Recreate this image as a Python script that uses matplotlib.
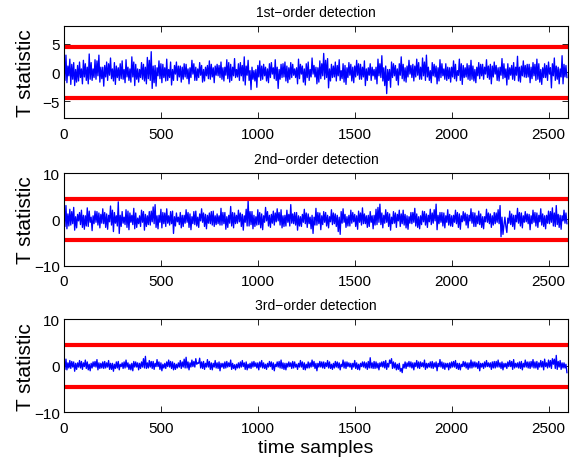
"""Three stacked T-statistic traces with detection thresholds"""
import numpy as np
import matplotlib
matplotlib.use("Agg")
import matplotlib.pyplot as plt

plt.rcParams['font.family'] = ['Liberation Sans', 'DejaVu Sans']

# one value every 5 time samples
step = 5
n_samples = 2600
threshold = 4.5

first_order = [
    0.8, -1.4, 3.0, -1.8, 1.1, -0.6, 2.3, -2.1, 1.4, -1.2, 1.7, -2.3, 0.5, -1.7, 1.2, -1.5, 1.8, -0.9, 0.6, -2.0,
    2.1, -0.8, 1.5, -1.4, 0.9, -2.0, 3.2, -1.2, 1.7, -1.4, 0.6, -0.9, 2.2, -1.2, 2.0, -0.6, 3.0, -1.7, 0.9, -1.1,
    0.9, -2.4, 1.2, -0.8, 1.8, -1.4, 1.5, -0.5, 2.5, -1.1, 0.6, -1.5, 1.7, -2.1, 1.1, -0.9, 0.8, -1.4, 1.5, -1.1,
    2.0, -1.2, 0.5, -1.8, 2.2, -0.8, 0.9, -1.4, 0.6, -1.7, 2.7, -0.8, 1.8, -2.3, 1.4, -1.2, 0.6, -1.7, 0.5, -0.9,
    1.7, -1.2, 1.4, -1.5, 0.9, -2.0, 2.6, -1.1, 2.1, -1.4, 3.6, -2.8, 1.1, -1.8, 1.2, -2.4, 0.8, -0.6, 2.0, -1.1,
    1.5, -1.8, 1.4, -0.9, 0.8, -1.5, 2.3, -1.4, 0.5, -0.9, 1.8, -2.2, 0.5, -1.4, 1.2, -0.3, 1.8, -1.4, 1.1, -0.8,
    1.1, -1.7, 0.9, -1.2, 1.5, -0.8, 1.4, -1.1, 0.6, -2.0, 0.8, -0.9, 2.1, -0.3, 1.5, -1.4, 0.9, -1.4, 0.6, -0.9,
    1.7, -0.5, 1.2, -1.7, 0.5, -1.5, 0.9, -0.6, 1.2, -1.1, 2.0, -1.2, 1.4, -0.8, 0.8, -1.8, 1.1, -0.5, 1.4, -0.6,
    1.2, -0.9, 1.8, -1.2, 0.8, -1.5, 0.9, -0.5, 2.2, -1.1, 1.7, -1.7, 1.4, -1.4, 0.9, -0.6, 2.4, -0.9, 0.5, -0.8,
    1.5, -1.4, 1.7, -0.6, 1.2, -1.5, 2.7, -2.2, 1.1, -0.5, 2.1, -1.4, 0.3, -3.0, 0.9, -1.2, 0.3, -1.5, 0.5, -2.6,
    1.2, -0.8, 2.0, -1.4, 1.1, -1.2, 1.4, -0.6, 0.9, -1.5, 0.6, -1.8, 1.5, -0.9, 1.7, -0.3, 0.8, -1.1, 2.2, -1.4,
    0.9, -2.8, 0.5, -1.2, 1.4, -0.9, 1.5, -0.8, 1.8, -1.5, 1.1, -1.8, 0.8, -1.2, 1.7, -0.9, 1.4, -0.5, 0.6, -0.9,
    0.8, -2.0, 2.3, -1.1, 1.4, -0.3, 1.1, -1.7, 0.6, -2.2, 1.5, -0.9, 1.8, -1.4, 0.5, -0.8, 2.5, -0.3, 1.2, -0.8,
    0.9, -2.0, 0.8, -1.7, 2.0, -1.1, 1.5, -0.6, 3.3, -1.2, 2.1, -0.9, 2.4, -2.7, 0.6, -1.5, 1.4, -0.9, 1.1, -0.8,
    1.8, -1.5, 1.2, -0.6, 2.2, -1.4, 0.3, -1.1, 1.5, -1.7, 1.2, -2.1, 0.8, -0.9, 1.7, -0.5, 1.4, -1.5, 0.9, -1.8,
    1.1, -0.8, 2.1, -0.5, 1.5, -1.2, 1.4, -1.2, 0.9, -0.8, 2.0, -2.3, 0.6, -1.4, 0.8, -0.5, 1.5, -1.4, 0.9, -0.6,
    0.5, -1.2, 0.9, -2.0, 2.3, -0.6, 1.5, -0.9, 2.9, -1.5, 0.8, -2.3, 1.1, -3.7, 0.5, -1.4, 0.5, -2.6, 1.8, -0.9,
    1.5, -0.6, 1.2, -1.4, 0.6, -2.2, 1.5, -0.5, 2.7, -1.1, 1.4, -1.5, 0.8, -1.7, 1.1, -0.8, 2.1, -0.3, 1.2, -0.9,
    1.4, -1.5, 1.1, -0.8, 2.3, -0.5, 1.7, -1.2, 0.9, -1.2, 2.5, -0.6, 1.8, -1.4, 3.0, -0.8, 0.9, -1.4, 0.3, -1.8,
    1.7, -0.6, 1.4, -0.8, 1.1, -2.0, 0.8, -1.5, 2.2, -0.9, 1.5, -0.6, 0.6, -1.2, 1.5, -1.4, 0.9, -1.1, 0.8, -1.7,
    0.9, -0.8, 2.0, -1.1, 1.4, -1.5, 0.3, -0.5, 2.3, -1.4, 1.5, -2.1, 1.2, -0.9, 0.8, -0.8, 1.5, -1.2, 1.2, -1.4,
    2.1, -1.2, 1.1, -1.5, 0.5, -1.8, 0.9, -0.6, 1.7, -1.1, 1.4, -0.6, 1.4, -1.2, 0.9, -0.3, 2.2, -0.9, 1.1, -1.2,
    1.4, -2.0, 1.1, -0.8, 1.8, -0.3, 1.2, -1.4, 0.8, -1.5, 0.9, -0.5, 2.4, -1.1, 1.5, -0.9, 0.6, -2.2, 1.5, -1.2,
    0.8, -0.5, 1.2, -1.2, 1.7, -1.4, 0.9, -0.5, 2.8, -1.5, 0.9, -1.7, 1.1, -0.6, 2.0, -0.8, 1.2, -0.9, 1.4, -0.8,
    1.4, -1.8, 0.9, -1.1, 1.7, -0.6, 1.4, -1.4, 2.3, -1.2, 1.5, -1.7, 0.5, -2.1, 0.8, -0.9, 1.5, -0.9, 1.2, -1.4,
    1.8, -0.3, 0.8, -2.7, 1.5, -0.6, 2.5, -1.4, 1.1, -1.2, 0.9, -2.0, 0.6, -0.8, 2.9, -2.0, 1.4, -0.8, 1.2, -0.9,
]

second_order = [
    0.6, -1.5, 3.0, -2.0, 1.2, -1.4, 2.2, -1.2, 1.7, -0.9, 2.6, -2.3, 0.6, -1.8, 1.1, -0.3, 1.5, -1.1, 2.0, -1.7,
    0.9, -2.1, 0.8, -1.4, 2.5, -1.5, 1.8, -0.6, 0.5, -2.4, 0.8, -0.9, 1.8, -0.6, 1.7, -1.2, 1.4, -1.8, 1.1, -0.8,
    2.3, -0.9, 1.5, -1.7, 1.2, -2.1, 0.9, -0.5, 2.9, -1.2, 2.0, -2.6, 1.5, -0.8, 0.8, -1.4, 3.8, -3.0, 0.9, -1.5,
    1.7, -0.8, 0.5, -1.1, 2.1, -1.7, 1.8, -2.2, 1.4, -0.6, 0.9, -1.1, 2.4, -2.0, 1.4, -1.7, 0.3, -0.9, 0.8, -1.5,
    2.0, -0.6, 1.7, -2.3, 1.1, -1.5, 0.8, -1.1, 1.7, -1.2, 1.8, -0.5, 2.7, -0.9, 3.2, -1.7, 0.8, -2.0, 0.9, -0.6,
    2.2, -1.8, 1.5, -0.9, 1.4, -1.5, 2.3, -0.8, 0.8, -1.2, 1.7, -0.9, 1.8, -3.0, 0.6, -1.4, 1.4, -0.5, 0.5, -1.1,
    1.5, -1.8, 0.9, -1.5, 0.9, -0.8, 2.1, -0.6, 1.5, -1.7, 1.2, -2.2, 0.6, -0.9, 1.7, -1.1, 1.8, -1.4, 0.5, -1.7,
    1.2, -0.3, 2.3, -0.6, 1.4, -1.5, 1.1, -2.0, 0.9, -0.8, 1.4, -0.9, 1.7, -1.2, 1.8, -1.5, 0.8, -1.1, 1.2, -0.9,
    0.8, -1.2, 2.4, -1.2, 1.5, -0.9, 1.5, -2.1, 0.6, -1.7, 0.9, -0.8, 2.8, -1.4, 1.5, -1.8, 1.4, -0.9, 0.9, -0.8,
    2.0, -0.5, 1.4, -1.5, 1.1, -2.3, 0.8, -0.6, 2.2, -1.4, 4.1, -1.4, 1.7, -1.1, 1.7, -2.0, 0.9, -1.5, 0.6, -1.2,
    2.1, -1.1, 1.5, -1.8, 1.2, -2.2, 0.8, -0.6, 2.6, -0.3, 1.7, -1.4, 0.9, -1.7, 1.1, -0.8, 1.8, -1.2, 1.4, -0.5,
    2.3, -0.3, 1.5, -1.2, 2.1, -1.8, 0.8, -1.5, 0.9, -1.4, 2.0, -0.6, 1.1, -1.4, 3.2, -0.8, 1.2, -0.9, 1.5, -1.2,
    1.5, -2.3, 0.8, -1.4, 0.6, -1.5, 1.1, -0.6, 2.2, -0.9, 1.4, -1.7, 1.2, -0.9, 0.5, -2.0, 0.9, -3.0, 0.5, -1.2,
    2.4, -1.2, 1.5, -0.9, 1.4, -2.2, 0.8, -1.1, 1.7, -0.6, 1.5, -1.4, 0.9, -1.8, 0.6, -0.5, 2.1, -1.1, 1.4, -0.9,
    1.2, -1.5, 0.9, -2.6, 0.5, -3.2, 1.7, -0.8, 2.3, -0.6, 1.1, -1.7, 0.6, -1.4, 0.9, -1.4, 2.0, -0.8, 1.5, -0.5,
    1.1, -1.5, 0.8, -2.1, 1.8, -0.6, 1.4, -1.2, 2.5, -0.9, 1.2, -0.9, 0.8, -1.7, 0.9, -1.5, 1.7, -0.6, 0.8, -2.0,
    0.9, -1.2, 2.2, -1.1, 2.6, -0.6, 3.3, -1.1, 1.4, -1.8, 0.9, -0.8, 2.1, -0.6, 1.5, -1.5, 1.2, -2.3, 0.5, -0.9,
    1.7, -0.8, 1.4, -1.7, 1.1, -0.3, 2.0, -1.5, 1.2, -0.9, 2.0, -1.2, 1.1, -1.8, 0.8, -2.1, 0.6, -0.8, 1.5, -0.9,
    1.5, -0.6, 2.4, -1.4, 1.2, -1.7, 0.6, -2.0, 0.8, -1.1, 1.8, -0.5, 1.7, -1.2, 1.2, -1.7, 0.9, -0.5, 2.2, -1.1,
    1.4, -0.8, 2.1, -0.3, 3.3, -2.2, 0.9, -0.9, 1.5, -0.6, 1.5, -1.4, 1.4, -1.8, 0.8, -0.6, 2.1, -1.2, 1.1, -1.4,
    0.8, -1.5, 0.9, -0.6, 2.0, -0.9, 1.5, -1.7, 1.2, -2.1, 0.8, -0.5, 1.7, -0.3, 1.4, -1.2, 1.1, -1.8, 0.9, -0.3,
    2.3, -0.8, 1.5, -1.5, 1.4, -1.5, 0.8, -0.9, 1.8, -1.1, 1.2, -1.7, 0.6, -2.0, 0.6, -0.5, 2.2, -0.6, 1.4, -0.9,
    1.2, -1.7, 0.8, -1.2, 1.5, -0.9, 1.4, -0.6, 2.1, -0.9, 3.0, -3.7, 0.5, -3.2, -1.2, 0.5, -1.5, -2.8, 0.3, -0.8,
    1.8, -1.1, 1.2, -1.5, 0.9, -2.1, 0.9, -0.5, 2.4, -0.8, 1.5, -1.4, 1.4, -1.8, 0.8, -0.6, 1.7, -0.5, 1.2, -0.9,
    1.1, -2.2, 0.8, -0.9, 2.0, -0.6, 1.5, -1.4, 1.4, -1.7, 0.9, -0.5, 2.3, -1.2, 1.2, -1.5, 0.8, -2.0, 0.9, -0.8,
    1.8, -0.9, 1.7, -0.6, 2.5, -1.4, 1.4, -1.5, 3.0, -1.1, 1.1, -1.7, 0.9, -2.1, 0.8, -0.3, 2.0, -0.8, 1.4, -0.9,
]

third_order = [
    0.5, -0.8, 1.4, -0.9, 0.6, -0.5, 1.1, -0.6, 0.9, -0.3, 0.8, -1.2, 0.5, -0.8, 0.6, -0.3, 1.1, -0.5, 0.9, -0.8,
    0.6, -0.2, 1.2, -0.6, 0.8, -0.9, 0.3, -1.1, 0.5, -0.5, 0.8, -0.2, 0.9, -0.3, 1.3, -0.9, 0.6, -0.6, 0.5, -0.5,
    0.8, -0.6, 0.9, -0.5, 0.6, -0.3, 1.1, -0.8, 0.5, -0.8, 0.5, -1.2, 0.3, -0.6, 0.8, -0.5, 0.9, -0.9, 0.3, -0.2,
    0.6, -0.6, 0.8, -0.5, 1.2, -0.3, 0.6, -0.8, 0.3, -0.9, 0.5, -1.1, 0.9, -0.3, 0.8, -0.3, 0.6, -0.9, 0.5, -0.6,
    0.8, -0.3, 1.5, -0.5, 2.0, -0.6, 0.6, -0.5, 1.1, -0.3, 0.9, -0.6, 0.9, -0.8, 0.5, -0.2, 1.3, -0.2, 0.8, -0.8,
    0.6, -1.1, 0.3, -0.5, 0.5, -0.6, 0.8, -0.2, 1.2, -0.3, 0.9, -0.6, 0.8, -0.9, 0.5, -0.8, 0.3, -0.5, 0.6, -0.3,
    1.1, -0.6, 0.8, -0.3, 1.4, -0.5, 1.8, -0.5, 0.8, -0.9, 0.6, -0.3, 1.2, -0.2, 0.9, -0.3, 1.5, 0.3, 0.6, 0.5,
    1.6, -0.5, 0.8, -0.6, 0.9, -0.8, 0.5, -0.3, 1.3, -0.3, 0.9, -0.8, 0.6, -0.9, 0.5, -0.3, 1.1, -0.5, 0.6, -0.6,
    0.8, -1.1, 0.5, -0.3, 0.5, -0.6, 0.8, -0.5, 0.9, -0.3, 0.6, -0.2, 1.2, -0.8, 0.5, -0.6, 0.2, -0.9, 0.3, -0.5,
    0.6, -0.5, 0.8, -0.3, 1.1, -0.2, 0.6, -0.8, 0.8, -0.9, 0.3, -0.5, 0.5, -0.6, 0.8, -0.3, 0.9, -0.2, 0.6, -0.5,
    0.6, -0.9, 0.8, -0.3, 1.1, -0.5, 0.6, -0.6, 0.3, -0.8, 0.5, -0.3, 0.9, -0.2, 0.8, -0.8, 0.6, -1.1, 0.3, -0.2,
    0.8, -0.3, 0.9, -0.5, 1.2, -0.6, 0.6, -0.8, 0.5, -0.9, 0.5, -0.3, 0.8, -0.2, 0.6, -0.6, 0.9, -0.5, 0.8, -0.3,
    0.3, -0.8, 0.5, -0.3, 1.1, -0.3, 0.8, -0.8, 0.6, -0.9, 0.3, -0.5, 0.8, -0.5, 0.6, -0.3, 1.2, -0.2, 0.9, -0.6,
    0.5, -1.1, 0.5, -0.3, 0.9, -0.3, 0.8, -0.5, 0.8, -0.6, 0.6, -0.2, 1.1, -0.5, 0.8, -0.6, 0.3, -0.8, 0.5, -0.5,
    0.9, -0.3, 0.8, -0.5, 0.6, -0.9, 0.3, -0.2, 1.2, -0.5, 0.8, -0.6, 0.8, -0.2, 0.6, -0.3, 0.5, -0.8, 0.5, -0.3,
    1.1, -0.6, 0.6, -0.8, 0.3, -0.9, 0.5, -0.2, 0.8, -0.3, 0.8, -0.5, 0.6, -0.8, 0.9, -0.5, 1.7, -0.5, 0.6, -0.6,
    0.9, -0.6, 0.8, -0.5, 0.5, -0.9, 0.6, -0.2, 0.8, -0.3, 0.9, -0.5, 1.1, -0.8, 0.5, -0.3, 1.2, 0.5, 1.5, -0.6,
    0.8, -0.5, 0.6, -0.9, 0.3, -0.8, 0.5, -1.2, -0.6, -1.5, 0.3, -0.5, 0.8, -0.6, 0.6, -0.2, 0.9, -0.3, 0.8, -0.5,
    0.6, -0.9, 0.6, -0.2, 1.1, -0.5, 0.8, -0.6, 0.8, -0.2, 0.6, -0.3, 1.2, -0.8, 0.5, -0.5, 0.5, -0.3, 0.8, -0.5,
    0.9, -0.6, 0.6, -0.3, 0.8, -1.1, 0.5, -0.2, 1.3, -0.3, 0.8, -0.6, 0.6, -0.8, 0.5, -0.3, 0.5, -0.9, 0.6, -0.5,
    0.8, -0.3, 0.9, -0.3, 1.1, -0.6, 0.5, -0.8, 0.5, -0.9, 0.3, -0.2, 0.9, -0.2, 0.8, -0.5, 0.6, -0.8, 0.6, -0.5,
    1.2, -0.5, 0.8, -0.3, 0.8, -0.3, 0.6, -0.6, 0.9, -1.1, 0.5, -0.3, 0.5, -0.6, 0.8, -0.3, 1.1, -0.2, 0.6, -0.3,
    0.6, -0.8, 0.8, -0.5, 0.9, -0.5, 0.9, -0.3, 1.2, -0.3, 0.6, -0.6, 0.8, -0.9, 0.5, -0.3, 0.5, -0.6, 0.8, -0.2,
    1.1, -0.2, 0.9, -0.8, 1.3, -0.5, 0.5, -0.3, 0.6, -0.5, 0.8, -0.6, 0.9, -0.9, 0.5, -0.3, 1.2, -0.3, 0.8, -0.5,
    0.8, -0.6, 0.9, -0.3, 1.3, -0.5, 0.8, -0.5, 0.9, -0.8, 0.6, -0.3, 1.1, -0.3, 0.9, -0.9, 1.4, -0.2, 0.6, -0.5,
    1.2, -0.3, 1.1, -0.6, 1.5, 0.3, 1.4, -0.6, 2.2, -0.8, 0.9, -0.3, 1.1, -0.8, 0.6, -0.5, 0.6, -0.5, 0.3, -1.5,
]

titles = ["1st\u2212order detection", "2nd\u2212order detection", "3rd\u2212order detection"]
series = [first_order, second_order, third_order]
y_limits = [(-8, 8), (-10, 10), (-10, 10)]
y_ticks = [[-5, 0, 5], [-10, 0, 10], [-10, 0, 10]]
x_ticks = [0, 500, 1000, 1500, 2000, 2500]

# axes boxes in figure fractions: left, bottom, width, height
boxes = [
    [0.1123, 0.7429, 0.884, 0.198],
    [0.1123, 0.4246, 0.884, 0.2004],
    [0.1123, 0.1093, 0.884, 0.201],
]

fig = plt.figure(figsize=(5.70, 4.64), dpi=100)

for i in range(3):
    ax = fig.add_axes(boxes[i])
    t = np.arange(len(series[i])) * step
    ax.plot(t, series[i], color='#0000ff', linewidth=0.95)
    ax.axhline(threshold, color='#ff0000', linewidth=3)
    ax.axhline(-threshold, color='#ff0000', linewidth=3)
    ax.set_xlim(0, n_samples)
    ax.set_ylim(*y_limits[i])
    ax.set_xticks(x_ticks)
    ax.set_yticks(y_ticks[i])
    ax.tick_params(direction='in', top=True, right=True, length=4,
                   width=0.6, labelsize=11)
    ax.tick_params(axis='x', pad=6)
    ax.tick_params(axis='y', pad=3)
    for spine in ax.spines.values():
        spine.set_linewidth(0.8)
    ax.set_title(titles[i], fontsize=10, pad=7.5)
    ax.set_ylabel("T statistic", fontsize=15)
    ax.yaxis.set_label_coords(-0.0575, 0.5)
    if i == 2:
        ax.set_xlabel("time samples", fontsize=14, labelpad=3)

fig.savefig("out.png", dpi=100)
